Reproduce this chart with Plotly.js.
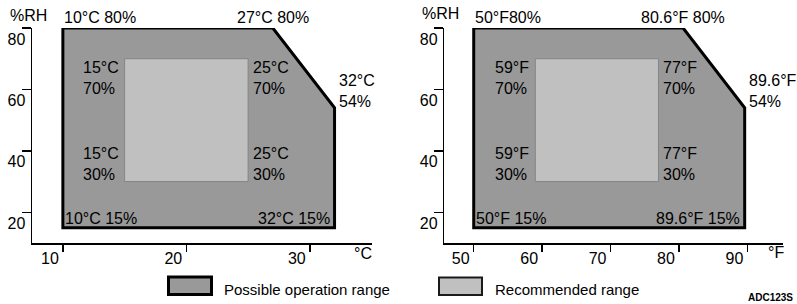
<!DOCTYPE html>
<html>
<head>
<meta charset="utf-8">
<script src="https://cdn.plot.ly/plotly-3.0.1.min.js"></script>
<style>html,body{margin:0;padding:0;background:#fff;}#chart{width:797px;height:304px;}</style>
</head>
<body>
<div id="chart"></div>
<script>
// ---- data ----
// Celsius chart
var opC_x = [10, 27, 32, 32, 10, 10];
var opC_y = [80, 80, 54, 15, 15, 80];
var recC_x = [15, 25, 25, 15, 15];
var recC_y = [70, 70, 30, 30, 70];
// Fahrenheit chart
var opF_x = [50, 80.6, 89.6, 89.6, 50, 50];
var opF_y = [80, 80, 54, 15, 15, 80];
var recF_x = [59, 77, 77, 59, 59];
var recF_y = [70, 70, 30, 30, 70];
// ticks
var ticksC = [10, 20, 30];
var ticksF = [50, 60, 70, 80, 90];
var ticksRH = [20, 40, 60, 80];
// labels
var labelsC = ["10°C 80%", "27°C 80%", "32°C<br>54%", "15°C<br>70%", "25°C<br>70%", "15°C<br>30%", "25°C<br>30%", "10°C 15%", "32°C 15%"];
var labelsF = ["50°F80%", "80.6°F 80%", "89.6°F<br>54%", "59°F<br>70%", "77°F<br>70%", "59°F<br>30%", "77°F<br>30%", "50°F 15%", "89.6°F 15%"];
var legendNames = ["Possible operation range", "Recommended range"];

var FONT = "Liberation Sans, Arial, Helvetica, sans-serif";
var W = 797, TOP = 28, BOT = 243;
function px(p){ return p / W; }
function py(p){ return (BOT - p) / (BOT - TOP); }

var DARK = "#999999", LIGHT = "#c0c0c0";

var traces = [
  {x: opC_x, y: opC_y, xaxis: "x", yaxis: "y", mode: "lines", fill: "toself", fillcolor: DARK,
   line: {color: "#000", width: 3}, hoverinfo: "skip", showlegend: false, cliponaxis: false},
  {x: recC_x, y: recC_y, xaxis: "x", yaxis: "y", mode: "lines", fill: "toself", fillcolor: LIGHT,
   line: {color: "#858585", width: 1}, hoverinfo: "skip", showlegend: false},
  {x: opF_x, y: opF_y, xaxis: "x2", yaxis: "y2", mode: "lines", fill: "toself", fillcolor: DARK,
   line: {color: "#000", width: 3}, hoverinfo: "skip", showlegend: false, cliponaxis: false},
  {x: recF_x, y: recF_y, xaxis: "x2", yaxis: "y2", mode: "lines", fill: "toself", fillcolor: LIGHT,
   line: {color: "#858585", width: 1}, hoverinfo: "skip", showlegend: false}
];

function xax(domain, range, ticks){
  return {domain: domain, range: range, tickmode: "array", tickvals: ticks, ticktext: ticks.map(String),
    ticks: "outside", ticklen: 7, tickwidth: 1.5, tickcolor: "#000",
    showline: true, linecolor: "#000", linewidth: 1.5, showgrid: false, zeroline: false,
    ticklabelshift: -13, ticklabelstandoff: -7,
    tickfont: {family: FONT, size: 16, color: "#000"}, fixedrange: true};
}
function yax(anchor){
  return {domain: [0, 1], range: [10, 80], anchor: anchor, tickmode: "array", tickvals: ticksRH, ticktext: ticksRH.map(String),
    ticks: "outside", ticklen: 9, tickwidth: 1.5, tickcolor: "#000",
    showline: true, linecolor: "#000", linewidth: 1.5, showgrid: false, zeroline: false,
    ticklabelshift: 11, ticklabelstandoff: -7,
    tickfont: {family: FONT, size: 16, color: "#000"}, fixedrange: true};
}

function polyLabels(xs, ys, rx, ry, labels, xr, yr){
  var f = {family: FONT, size: 16, color: "#000"};
  var base = {xref: xr, yref: yr, showarrow: false, font: f, align: "left", borderpad: 0};
  var spec = [
    [xs[0], ys[0], "left", "bottom", 0, 1],
    [xs[1], ys[1], "center", "bottom", 0, 1],
    [xs[2], ys[2], "left", "bottom", 3, -3],
    [rx[0], ry[0], "right", "top", -5, 1],
    [rx[1], ry[1], "left", "top", 4, 1],
    [rx[3], ry[3], "right", "bottom", -5, -2],
    [rx[2], ry[2], "left", "bottom", 4, -2],
    [xs[4], ys[4], "left", "bottom", 1, 0],
    [xs[3], ys[3], "right", "bottom", -4, 0]
  ];
  return spec.map(function(s, i){
    return Object.assign({}, base, {x: s[0], y: s[1], xanchor: s[2], yanchor: s[3], xshift: s[4], yshift: s[5], text: labels[i]});
  });
}

var annotations = []
  .concat(polyLabels(opC_x, opC_y, recC_x, recC_y, labelsC, "x", "y"))
  .concat(polyLabels(opF_x, opF_y, recF_x, recF_y, labelsF, "x2", "y2"));

var tf = {family: FONT, size: 16, color: "#000"};
annotations.push({xref: "paper", yref: "paper", x: px(8), y: py(15), xanchor: "left", yanchor: "middle", text: "%RH", showarrow: false, font: tf});
annotations.push({xref: "paper", yref: "paper", x: px(420), y: py(14), xanchor: "left", yanchor: "middle", text: "%RH", showarrow: false, font: tf});
annotations.push({xref: "paper", yref: "paper", x: px(352), y: py(253), xanchor: "left", yanchor: "middle", text: "°C", showarrow: false, font: tf});
annotations.push({xref: "paper", yref: "paper", x: px(766), y: py(252), xanchor: "left", yanchor: "middle", text: "°F", showarrow: false, font: tf});
var lf = {family: FONT, size: 15, color: "#000"};
annotations.push({xref: "paper", yref: "paper", x: px(222), y: py(289), xanchor: "left", yanchor: "middle", text: legendNames[0], showarrow: false, font: lf});
annotations.push({xref: "paper", yref: "paper", x: px(493), y: py(289), xanchor: "left", yanchor: "middle", text: legendNames[1], showarrow: false, font: lf});
annotations.push({xref: "paper", yref: "paper", x: px(795), y: py(297), xanchor: "right", yanchor: "middle", text: "ADC123S", showarrow: false,
  font: {family: FONT, size: 10, color: "#000", weight: "bold"}});

var shapes = [
  {type: "rect", xref: "paper", yref: "paper", x0: px(168.5), x1: px(211.5), y0: py(277), y1: py(294.5),
   fillcolor: DARK, line: {color: "#000", width: 3}},
  {type: "rect", xref: "paper", yref: "paper", x0: px(439), x1: px(482), y0: py(277.5), y1: py(295),
   fillcolor: LIGHT, line: {color: "#1a1a1a", width: 2}}
];

var layout = {
  width: 797, height: 304,
  margin: {l: 0, r: 0, t: TOP, b: 304 - BOT, pad: 0},
  paper_bgcolor: "#fff", plot_bgcolor: "rgba(0,0,0,0)",
  showlegend: false,
  xaxis: Object.assign(xax([px(32), px(371.6)], [7.5, 35], ticksC), {anchor: "y"}),
  yaxis: yax("x"),
  xaxis2: Object.assign(xax([px(444.3), px(783)], [45.7, 95.2], ticksF), {anchor: "y2"}),
  yaxis2: yax("x2"),
  annotations: annotations,
  shapes: shapes,
  font: {family: FONT}
};

Plotly.newPlot("chart", traces, layout, {staticPlot: true, displayModeBar: false});
</script>
</body>
</html>
